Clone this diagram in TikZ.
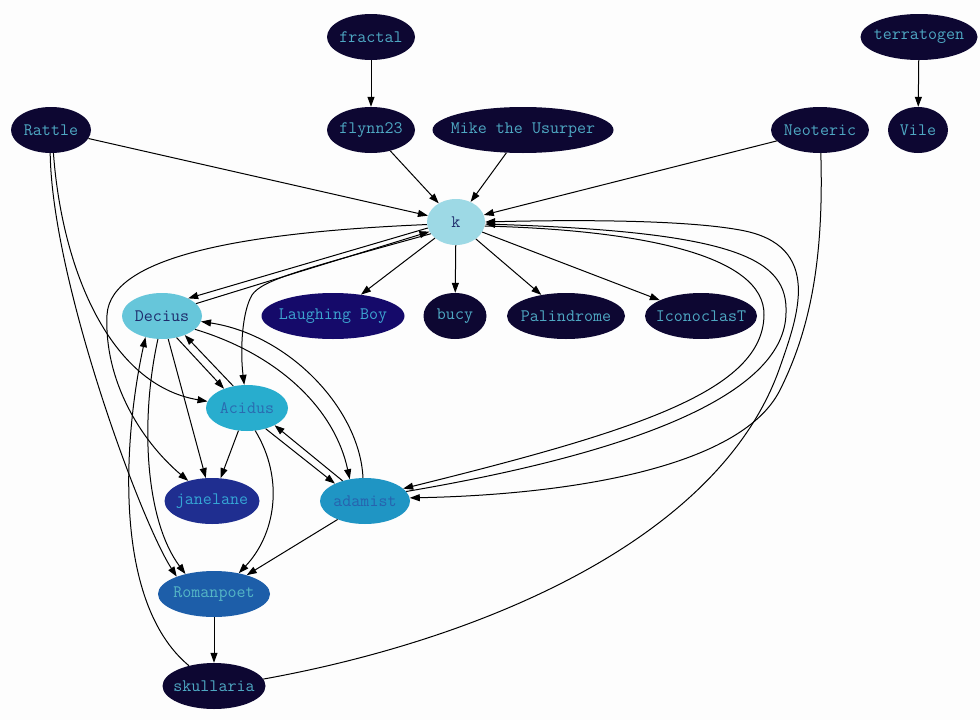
\documentclass[tikz,border=0pt]{standalone}
\usepackage{fontspec}
\usetikzlibrary{shapes.geometric,arrows.meta}
\definecolor{cBg}{HTML}{FDFDFD}
\definecolor{cDark}{HTML}{0D0732}
\definecolor{cDarkT}{HTML}{4EA8C3}
\definecolor{cK}{HTML}{9DD9E5}
\definecolor{cKT}{HTML}{22306E}
\definecolor{cDec}{HTML}{66C6DA}
\definecolor{cDecT}{HTML}{1E2A6B}
\definecolor{cLB}{HTML}{150A6A}
\definecolor{cLBT}{HTML}{3DA4D0}
\definecolor{cAci}{HTML}{28ADCE}
\definecolor{cAciT}{HTML}{2A6BB0}
\definecolor{cJan}{HTML}{1F2E90}
\definecolor{cJanT}{HTML}{35A5D5}
\definecolor{cAda}{HTML}{1F95C4}
\definecolor{cAdaT}{HTML}{2762AE}
\definecolor{cRom}{HTML}{1D5EA9}
\definecolor{cRomT}{HTML}{55B6C6}
\newcommand\mylbl[1]{\makebox[0pt]{#1}}
\begin{document}
\begin{tikzpicture}[x=1pt,y=-1pt,
  nd/.style={ellipse, draw=none, inner sep=0pt, minimum height=46pt,
    font=\ttfamily\fontsize{17.5}{17.5}\selectfont},
  dk/.style={nd, fill=cDark, text=cDarkT},
  e/.style={-{Triangle[length=10pt,width=7pt]}, line width=1pt, black}]
\fill[cBg] (0,0) rectangle (980,720);
\useasboundingbox (0,0) rectangle (980,720);

% nodes
\node[dk, minimum width=88pt]  (fractal)    at (371,37)  {\mylbl{fractal}};
\node[dk, minimum width=117pt] (terratogen) at (919,37)  {\mylbl{terratogen}};
\node[dk, minimum width=80pt]  (Rattle)     at (51,130)  {\mylbl{Rattle}};
\node[dk, minimum width=88pt]  (flynn)      at (371,130) {\mylbl{flynn23}};
\node[dk, minimum width=181pt] (Mike)       at (523,130) {\mylbl{Mike the Usurper}};
\node[dk, minimum width=98pt]  (Neoteric)   at (820,130) {\mylbl{Neoteric}};
\node[dk, minimum width=60pt]  (Vile)       at (918,130) {\mylbl{Vile}};
\node[nd, minimum width=58pt, fill=cK, text=cKT] (k) at (456,222) {\mylbl{k}};
\node[nd, minimum width=80pt, fill=cDec, text=cDecT] (Decius) at (162,316) {\mylbl{Decius}};
\node[nd, minimum width=143pt, fill=cLB, text=cLBT] (LB) at (333,316) {\mylbl{Laughing Boy}};
\node[dk, minimum width=63pt]  (bucy)       at (455,316) {\mylbl{bucy}};
\node[dk, minimum width=118pt] (Pal)        at (566,316) {\mylbl{Palindrome}};
\node[dk, minimum width=112pt] (Icon)       at (701,316) {\mylbl{IconoclasT}};
\node[nd, minimum width=82pt, fill=cAci, text=cAciT] (Acidus) at (247,408) {\mylbl{Acidus}};
\node[nd, minimum width=95pt, fill=cJan, text=cJanT] (janelane) at (212,501) {\mylbl{janelane}};
\node[nd, minimum width=90pt, fill=cAda, text=cAdaT] (adamist) at (365,501) {\mylbl{adamist}};
\node[nd, minimum width=112pt, fill=cRom, text=cRomT] (Romanpoet) at (214,594) {\mylbl{Romanpoet}};
\node[dk, minimum width=103pt] (skullaria)  at (214,686) {\mylbl{skullaria}};

% straight edges
\draw[e] (fractal) -- (flynn);
\draw[e] (terratogen) -- (Vile);
\draw[e] (Rattle) -- (k);
\draw[e] (flynn) -- (k);
\draw[e] (Mike) -- (k);
\draw[e] (Neoteric) -- (k);
\draw[e] (k) -- (LB);
\draw[e] (k) -- (bucy);
\draw[e] (k) -- (Pal);
\draw[e] (k) -- (Icon);
\draw[e] (k.192) -- (Decius.34);
\draw[e] (Decius.20) -- (k.200);
\draw[e] (Decius.-56) -- (Acidus.140);
\draw[e] (Acidus.122) -- (Decius.-40);
\draw[e] (Decius) -- (janelane);
\draw[e] (Acidus) -- (janelane);
\draw[e] (Acidus.-48) -- (adamist.150);
\draw[e] (adamist.138) -- (Acidus.-32);
\draw[e] (adamist.-146) -- (Romanpoet.30);
\draw[e] (Romanpoet) -- (skullaria);

% curved edges
\draw[e] (k.185) .. controls (250,232) and (110,255) .. (107,315)
  .. controls (104,380) and (140,440) .. (janelane);
\draw[e] (k.205) .. controls (300,270) and (262,280) .. (252,295)
  .. controls (242,312) and (240,350) .. (Acidus);
\draw[e] (Rattle.-84) .. controls (62,270) and (110,385) .. (Acidus);
\draw[e] (Rattle.-92) .. controls (52,280) and (140,520) .. (Romanpoet.155);
\draw[e] (Decius.-22) .. controls (280,355) and (335,410) .. (adamist.125);
\draw[e] (adamist.95) .. controls (360,410) and (290,335) .. (Decius.-8);
\draw[e] (Acidus.-70) .. controls (285,480) and (275,535) .. (Romanpoet.40);
\draw[e] (Decius.-100) .. controls (140,420) and (145,520) .. (Romanpoet.145);
\draw[e] (skullaria.141) .. controls (110,600) and (125,430) .. (Decius.-128);
\draw[e] (skullaria.8) .. controls (480,640) and (720,540) .. (780,367)
  .. controls (797,318) and (825,245) .. (740,230)
  .. controls (680,219) and (560,220) .. (k.0);
\draw[e] (k.-8) .. controls (640,230) and (765,255) .. (764,315)
  .. controls (763,390) and (640,430) .. (adamist.18);
\draw[e] (adamist.13) .. controls (650,450) and (785,390) .. (786,313)
  .. controls (788,260) and (740,232) .. (k.-4);
\draw[e] (Neoteric.-88) .. controls (824,260) and (810,330) .. (780,390)
  .. controls (740,470) and (560,495) .. (adamist.4);
\end{tikzpicture}
\end{document}
